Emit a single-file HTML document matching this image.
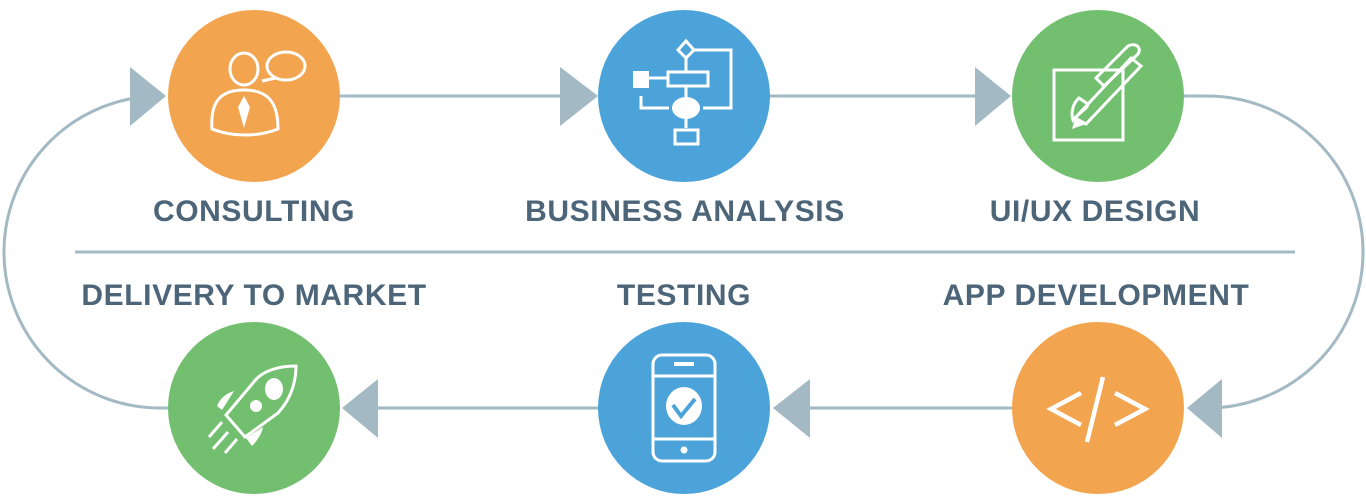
<!DOCTYPE html>
<html><head><meta charset="utf-8"><style>
html,body{margin:0;padding:0;background:#fff;width:1366px;height:501px;overflow:hidden}
svg{display:block}
text{font-family:"Liberation Sans",sans-serif;font-weight:bold;font-size:30px;letter-spacing:0.6px;fill:#4c6579;text-anchor:middle}
</style></head><body>
<svg width="1366" height="501" viewBox="0 0 1366 501">
<g stroke="#a3b9c3" stroke-width="3" fill="none">
<line x1="340" y1="96" x2="562" y2="96"/>
<line x1="770" y1="96" x2="976" y2="96"/>
<line x1="1012" y1="408" x2="808" y2="408"/>
<line x1="598" y1="408" x2="376" y2="408"/>
<path d="M1183 96 H1207 A156 156 0 0 1 1207 408 H1222"/>
<path d="M168 408 H160 A156 156 0 0 1 160 96 H132"/>
<line x1="75" y1="252" x2="1295" y2="252"/>
</g>
<g fill="#a3b9c3">
<polygon points="560,67 560,126 598,96"/>
<polygon points="975,67 975,126 1011,96"/>
<polygon points="130,67 130,126 166,96"/>
<polygon points="1222,379 1222,438 1187,408"/>
<polygon points="810,379 810,438 773,408"/>
<polygon points="378,379 378,438 342,408"/>
</g>
<circle cx="254" cy="96" r="86" fill="#f2a44f"/>
<circle cx="684" cy="96" r="86" fill="#4ba3d9"/>
<circle cx="1098" cy="96" r="86" fill="#72bf6f"/>
<circle cx="254" cy="408" r="86" fill="#72bf6f"/>
<circle cx="684" cy="408" r="86" fill="#4ba3d9"/>
<circle cx="1098" cy="408" r="86" fill="#f2a44f"/>
<g stroke="#fff" stroke-width="3" fill="none">
<ellipse cx="244" cy="69" rx="14" ry="16"/>
<ellipse cx="286" cy="66" rx="19" ry="14"/>
<path d="M262 81 L276 78"/>
<path d="M212 129 C210 100 222 90 244 90 C266 90 278 100 278 129 C258 137 232 137 212 129Z"/>
</g>
<polygon points="244,96 238,107 244,128 250,107" fill="#fff"/>
<g stroke="#fff" stroke-width="3" fill="none">
<polygon points="686,41 694,50 686,58 678,50"/>
<path d="M694 50 H731 V108 H703 M686 58 V72 M686 86 V98 M641 96 V108 H669 M686 118 V128"/>
<rect x="668" y="72" width="40" height="14"/>
<rect x="675" y="130" width="23" height="14"/>
<path d="M642 78 H668"/>
</g>
<rect x="633" y="71" width="16" height="17" fill="#fff"/>
<ellipse cx="686" cy="108" rx="14" ry="11" fill="#fff"/>
<g stroke="#fff" stroke-width="3" fill="none">
<rect x="1054" y="70" width="69" height="70"/>
<path d="M1075 118 L1131 58 L1141 66 L1086 124 Z"/>
<path d="M1096 78 L1128 46 C1136 42 1142 48 1138 54 L1104 86 Z"/>
<path d="M1079 98 C1072 104 1071 114 1073 120 C1080 112 1088 108 1088 104 Z"/>
</g>
<polygon points="1075,118 1086,124 1072,129" fill="#fff"/>
<g stroke="#fff" stroke-width="3" fill="none">
<path d="M226 415 L245 437 L278 413 C292 398 296 380 296 366 C280 366 262 370 253 383 Z"/>
<line x1="222" y1="422" x2="209" y2="437"/>
<line x1="228" y1="432" x2="213" y2="449"/>
<line x1="237" y1="439" x2="225" y2="453"/>
</g>
<ellipse cx="274" cy="389" rx="9" ry="11" fill="#fff"/>
<ellipse cx="256" cy="406" rx="6" ry="6" fill="#fff"/>
<path d="M217 406 C220 398 227 393 234 391 L222 410Z M252 446 C258 440 262 433 263 427 L246 438Z" fill="#fff"/>
<g stroke="#fff" stroke-width="3" fill="none">
<rect x="653" y="355" width="62" height="106" rx="9"/>
<line x1="653" y1="376" x2="715" y2="376"/>
<line x1="653" y1="439" x2="715" y2="439"/>
</g>
<rect x="674" y="362" width="20" height="4" fill="#fff"/>
<circle cx="684" cy="450" r="3.5" fill="#fff"/>
<ellipse cx="684" cy="406" rx="18" ry="19" fill="#fff"/>
<path d="M673 405 L681 416 L695 399" stroke="#4ba3d9" stroke-width="4" fill="none"/>
<g stroke="#fff" stroke-width="4.5" fill="none">
<path d="M1081 393 L1051 409 L1081 425"/>
<path d="M1115 393 L1145 409 L1115 425"/>
<path d="M1103 377 L1087 442"/>
</g>
<text x="254" y="221">CONSULTING</text>
<text x="685" y="221">BUSINESS ANALYSIS</text>
<text x="1095" y="221">UI/UX DESIGN</text>
<text x="254" y="305">DELIVERY TO MARKET</text>
<text x="684" y="305">TESTING</text>
<text x="1096" y="305">APP DEVELOPMENT</text>
</svg>
</body></html>
